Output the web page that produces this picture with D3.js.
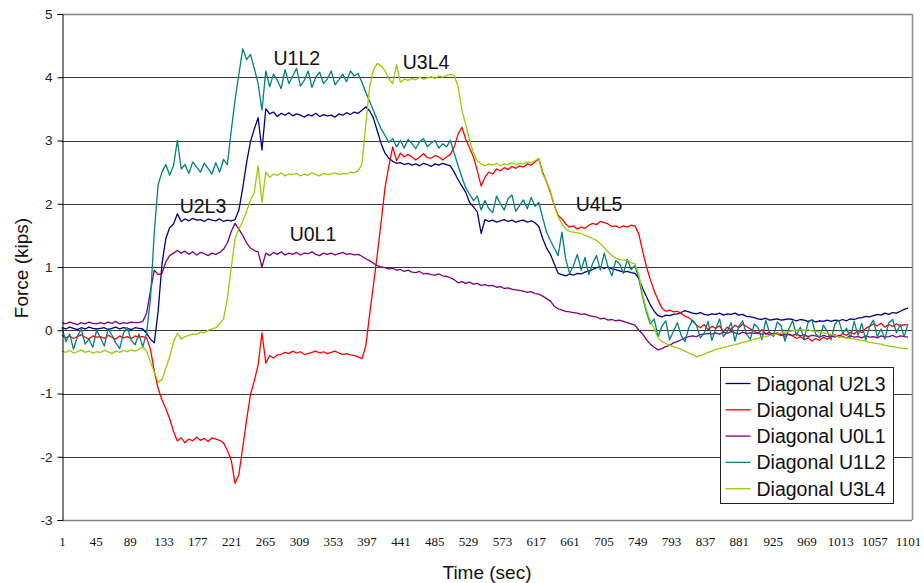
<!DOCTYPE html>
<html>
<head>
<meta charset="utf-8">
<script src="https://cdn.jsdelivr.net/npm/d3@7/dist/d3.min.js"></script>
<style>
  html, body { margin: 0; padding: 0; background: #fff; }
  svg { display: block; }
</style>
</head>
<body>
<svg id="chart" width="924" height="583"></svg>
<script>
// Member forces recorded every 5 s over the test (time in seconds, force in kips)
const timeSec = d3.range(1, 1102, 5);

const seriesNames = ["Diagonal U2L3", "Diagonal U4L5", "Diagonal U0L1", "Diagonal U1L2", "Diagonal U3L4"];
const seriesColors = ["#000080", "#FF0000", "#800080", "#008080", "#99CC00"];

const u2l3 = [
  0.04, 0.02, 0.05, 0.03, 0.01, 0.04, 0.02, 0.05, 0.03, 0.02,
  0.03, 0.04, 0.01, 0.03, 0.05, 0.02, 0.04, 0.03, 0.01, 0.04,
  0.03, 0.02, -0.05, -0.14, -0.2, 0.3, 1.05, 1.45, 1.62, 1.68,
  1.84, 1.72, 1.76, 1.73, 1.77, 1.74, 1.75, 1.72, 1.76, 1.74,
  1.73, 1.76, 1.72, 1.74, 1.73, 1.75, 1.9, 2.25, 2.65, 2.98,
  3.18, 3.36, 2.85, 3.5, 3.42, 3.45, 3.38, 3.43, 3.4, 3.44,
  3.39, 3.42, 3.4, 3.37, 3.41, 3.39, 3.43, 3.38, 3.41, 3.39,
  3.4, 3.37, 3.42, 3.4, 3.44, 3.41, 3.45, 3.43, 3.48, 3.53,
  3.47, 3.35, 3.15, 2.95, 2.8, 2.72, 2.67, 2.64, 2.65, 2.62,
  2.64, 2.61, 2.63, 2.6, 2.64, 2.62, 2.59, 2.63, 2.61, 2.64,
  2.62, 2.6, 2.5, 2.38, 2.28, 2.18, 2.02, 1.95, 1.87, 1.53,
  1.75, 1.72, 1.74, 1.71, 1.73, 1.75, 1.72, 1.74, 1.71, 1.73,
  1.74, 1.71, 1.73, 1.7, 1.64, 1.45, 1.3, 1.2, 1.05, 0.9,
  0.88, 0.86, 0.89, 0.87, 0.9, 0.89, 0.92, 0.94, 0.96, 0.99,
  1.0, 0.98, 1.0, 0.97, 0.96, 0.94, 0.92, 0.93, 0.91, 0.9,
  0.82, 0.66, 0.53, 0.4, 0.3, 0.23, 0.21, 0.24, 0.23, 0.25,
  0.26, 0.28, 0.31, 0.29, 0.27, 0.26, 0.28, 0.25, 0.24, 0.26,
  0.25, 0.27, 0.24, 0.26, 0.25, 0.27, 0.24, 0.25, 0.22, 0.21,
  0.2, 0.18, 0.17, 0.19, 0.16, 0.17, 0.18, 0.16, 0.17, 0.18,
  0.17, 0.15, 0.17, 0.16, 0.14, 0.16, 0.13, 0.15, 0.14, 0.16,
  0.14, 0.16, 0.15, 0.17, 0.15, 0.18, 0.17, 0.19, 0.2, 0.22,
  0.21, 0.23, 0.25, 0.24, 0.27, 0.25, 0.28, 0.27, 0.3, 0.33,
  0.35
];

const u4l5 = [
  -0.08, -0.12, -0.09, -0.13, -0.1, -0.07, -0.11, -0.14, -0.09, -0.11,
  -0.1, -0.13, -0.08, -0.11, -0.14, -0.09, -0.12, -0.1, -0.13, -0.09,
  -0.11, -0.1, -0.12, -0.3, -0.65, -0.92, -1.1, -1.24, -1.4, -1.6,
  -1.75, -1.7, -1.78, -1.72, -1.75, -1.69, -1.74, -1.71, -1.76, -1.7,
  -1.72, -1.74, -1.78, -1.9, -2.05, -2.42, -2.28, -1.85, -1.42, -1.02,
  -0.8, -0.55, -0.04, -0.52, -0.4, -0.44, -0.39, -0.38, -0.35, -0.37,
  -0.33, -0.36, -0.34, -0.38, -0.37, -0.35, -0.33, -0.36, -0.34, -0.37,
  -0.35, -0.33, -0.36, -0.38, -0.37, -0.39, -0.4, -0.42, -0.45, -0.25,
  0.25, 0.72, 1.2, 1.72, 2.25, 2.6, 2.9, 2.68, 2.8, 2.74,
  2.78, 2.74, 2.69, 2.74, 2.79, 2.73, 2.72, 2.76, 2.74, 2.69,
  2.74, 2.78, 2.9, 3.1, 3.21, 3.02, 2.88, 2.74, 2.52, 2.28,
  2.42, 2.5, 2.47, 2.55, 2.52, 2.57, 2.54, 2.59, 2.56, 2.6,
  2.58, 2.63, 2.61, 2.66, 2.71, 2.5, 2.35, 2.18, 1.98, 1.82,
  1.76, 1.68, 1.63, 1.65, 1.6, 1.63, 1.61, 1.66, 1.69, 1.67,
  1.72, 1.7, 1.68, 1.64, 1.65, 1.62, 1.65, 1.63, 1.66, 1.65,
  1.52, 1.25, 1.0, 0.8, 0.62, 0.48, 0.35, 0.3, 0.32, 0.29,
  0.3, 0.27, 0.22, 0.2, 0.14, 0.08, 0.04, 0.09, 0.01, 0.06,
  0.03, 0.07, -0.02, 0.05, 0.01, 0.08, 0.04, 0.1, 0.06, 0.02,
  -0.02, -0.05, 0.01, -0.06, -0.03, -0.08, -0.04, -0.07, -0.1, -0.06,
  -0.09, -0.13, -0.1, -0.15, -0.12, -0.17, -0.13, -0.16, -0.11, -0.14,
  -0.1, -0.07, -0.11, -0.05, -0.08, -0.03, -0.06, 0.0, -0.04, 0.03,
  0.06, 0.1, 0.07, 0.11, 0.05, 0.09, 0.06, 0.1, 0.07, 0.09,
  0.08
];

const u0l1 = [
  0.12, 0.1, 0.13, 0.11, 0.09, 0.12, 0.1, 0.13, 0.11, 0.1,
  0.12, 0.1, 0.13, 0.11, 0.14, 0.1, 0.12, 0.11, 0.13, 0.12,
  0.12, 0.14, 0.27, 0.62, 0.95, 0.88, 0.9, 1.08, 1.18, 1.22,
  1.26, 1.22, 1.25, 1.2, 1.24, 1.19, 1.23, 1.21, 1.18, 1.22,
  1.2, 1.23, 1.28, 1.38, 1.56, 1.69, 1.6, 1.5, 1.38, 1.3,
  1.26, 1.24, 1.0, 1.22, 1.18, 1.23, 1.2, 1.24, 1.19, 1.22,
  1.2, 1.23, 1.19, 1.22, 1.21, 1.24, 1.2, 1.18, 1.22, 1.2,
  1.22, 1.19, 1.21, 1.23, 1.2, 1.21, 1.19, 1.2, 1.17, 1.13,
  1.1, 1.06, 1.02, 1.0, 0.99, 0.97, 0.98, 0.95, 0.96, 0.93,
  0.95, 0.92, 0.91, 0.93, 0.89, 0.9, 0.88, 0.87, 0.89, 0.86,
  0.85, 0.83, 0.8, 0.75, 0.77, 0.74, 0.76, 0.73, 0.74, 0.71,
  0.72, 0.7, 0.71, 0.68, 0.69, 0.66, 0.67, 0.65, 0.64, 0.63,
  0.62, 0.6, 0.61, 0.58, 0.57, 0.54, 0.5, 0.46, 0.38, 0.34,
  0.32, 0.3, 0.29, 0.28, 0.27, 0.25, 0.26, 0.23, 0.22, 0.21,
  0.18, 0.19, 0.16, 0.17, 0.15, 0.16, 0.14, 0.12, 0.1, 0.08,
  0.0, -0.06, -0.15, -0.22, -0.27, -0.31, -0.29, -0.26, -0.24, -0.2,
  -0.18, -0.15, -0.12, -0.1, -0.09, -0.1, -0.07, -0.06, -0.05, -0.06,
  -0.04, -0.06, -0.03, -0.05, -0.02, -0.04, -0.06, -0.03, -0.05, -0.04,
  -0.05, -0.04, -0.06, -0.05, -0.07, -0.05, -0.06, -0.08, -0.06, -0.07,
  -0.08, -0.06, -0.09, -0.07, -0.1, -0.08, -0.09, -0.11, -0.08, -0.1,
  -0.09, -0.11, -0.08, -0.1, -0.12, -0.09, -0.11, -0.1, -0.12, -0.09,
  -0.11, -0.1, -0.12, -0.09, -0.11, -0.1, -0.08, -0.11, -0.09, -0.1,
  -0.11
];

const u1l2 = [
  0.05, -0.18, -0.06, -0.3, -0.1, 0.02, -0.22, -0.14, -0.27, 0.0,
  -0.12, -0.25, 0.03, -0.08, -0.2, -0.29, -0.04, 0.04, -0.16, -0.23,
  -0.06, -0.26, -0.05, 0.5, 1.55, 2.3, 2.5, 2.62, 2.45, 2.6,
  3.0, 2.55, 2.62, 2.48, 2.66, 2.58, 2.5, 2.64, 2.56, 2.47,
  2.65, 2.5, 2.7, 2.62, 3.15, 3.64, 4.05, 4.45, 4.28, 4.36,
  4.14, 3.9, 3.48, 4.1, 3.85, 4.05, 3.95, 3.82, 4.12, 3.9,
  4.02, 4.14, 3.86, 3.95, 4.1, 3.84, 4.0, 4.08, 3.9, 3.97,
  4.1, 3.88, 3.96, 4.05, 3.93, 4.1, 4.02, 4.06, 3.92, 3.76,
  3.62, 3.47, 3.32, 3.18, 3.08, 2.97, 3.03, 2.9, 3.0, 2.88,
  3.02, 2.95, 2.87, 2.98, 3.03, 2.9, 2.96, 3.0, 2.88, 2.95,
  2.9, 3.0, 2.8, 2.6, 2.42, 2.25, 2.15, 2.05, 2.12, 1.9,
  2.05, 1.92, 1.86, 2.12, 2.0, 1.9, 2.08, 2.14, 1.88, 1.97,
  2.06, 1.92, 2.1, 1.96, 2.02, 1.78, 1.55, 1.42, 1.3, 1.18,
  1.55, 1.12, 0.9, 1.02, 1.2, 0.95, 1.15, 0.88, 1.06, 1.18,
  0.95, 1.22, 1.0, 0.86, 1.1, 1.05, 0.9, 1.12, 0.96, 1.02,
  0.82, 0.52, 0.28, 0.1, 0.18, -0.1, 0.06, 0.15, -0.15, -0.02,
  0.12, -0.08, -0.18, 0.04, 0.16, 0.08, -0.12, -0.05, 0.14, -0.16,
  0.02, 0.18, -0.1, -0.02, 0.12, -0.17, 0.06, 0.15, -0.06, -0.14,
  0.1, 0.04, -0.15, 0.16, -0.04, -0.1, 0.13, 0.07, -0.17, 0.02,
  0.15, -0.08, 0.05, -0.14, 0.12, 0.17, -0.06, -0.12, 0.08, -0.02,
  -0.15, 0.1, 0.16, -0.05, 0.03, -0.12, 0.14, -0.08, 0.11, -0.16,
  0.06, 0.16, -0.1, 0.02, -0.14, 0.12, 0.17, -0.04, 0.09, -0.1,
  0.1
];

const u3l4 = [
  -0.33, -0.35, -0.32, -0.36, -0.34, -0.31, -0.35, -0.33, -0.36, -0.34,
  -0.35, -0.32, -0.34, -0.37, -0.33, -0.35, -0.32, -0.34, -0.31, -0.33,
  -0.3, -0.27, -0.33, -0.5, -0.66, -0.82, -0.78, -0.6, -0.42, -0.18,
  -0.05, -0.14, -0.1, -0.08, -0.06, -0.07, -0.03, -0.04, 0.0, 0.02,
  0.04, 0.1, 0.18, 0.5, 0.98, 1.45, 1.6, 1.72, 1.88, 2.05,
  2.18, 2.6, 2.02, 2.5, 2.42, 2.47, 2.45, 2.49, 2.44, 2.47,
  2.46, 2.48, 2.44, 2.47, 2.45, 2.49, 2.46, 2.44, 2.48, 2.46,
  2.47, 2.49, 2.46, 2.48, 2.47, 2.5, 2.49, 2.52, 2.62, 3.25,
  3.85, 4.12, 4.22, 4.18, 4.1, 3.98, 3.9, 4.2, 3.92, 3.97,
  3.95, 3.98, 3.96, 4.0, 3.97, 3.99, 4.01, 3.98, 4.02, 4.0,
  4.03, 4.04, 4.03, 3.85, 3.48, 3.25, 3.0, 2.8, 2.68, 2.63,
  2.6, 2.63, 2.61, 2.64, 2.6, 2.63, 2.62, 2.65, 2.62, 2.64,
  2.63, 2.66, 2.65, 2.68, 2.72, 2.47, 2.36, 2.2, 1.98, 1.8,
  1.68, 1.6, 1.56, 1.55, 1.54, 1.53, 1.5, 1.48, 1.45, 1.42,
  1.37, 1.31, 1.24, 1.18, 1.14, 1.12, 1.11, 1.1, 1.07, 1.05,
  0.88, 0.56, 0.32, 0.14, 0.03, -0.12, -0.18, -0.21, -0.24, -0.26,
  -0.28, -0.3, -0.33, -0.36, -0.38, -0.42, -0.4, -0.38, -0.35, -0.33,
  -0.3, -0.29, -0.27, -0.26, -0.24, -0.23, -0.21, -0.19, -0.18, -0.16,
  -0.14, -0.13, -0.11, -0.1, -0.08, -0.07, -0.06, -0.04, -0.03, -0.02,
  -0.01, 0.0, 0.01, 0.0, 0.01, -0.01, -0.02, -0.03, -0.04, -0.05,
  -0.07, -0.08, -0.1, -0.11, -0.12, -0.13, -0.14, -0.15, -0.16, -0.17,
  -0.19, -0.2, -0.21, -0.22, -0.24, -0.25, -0.26, -0.27, -0.28, -0.29,
  -0.29
];

const seriesValues = [u2l3, u4l5, u0l1, u1l2, u3l4];

// Peak labels placed beside the curves
const peakLabels = ["U1L2", "U3L4", "U2L3", "U0L1", "U4L5"];
const peakLabelTime = [276, 444, 154, 297, 669];
const peakLabelForce = [4.2, 4.13, 1.85, 1.41, 1.88];

const xTickValues = d3.range(1, 1102, 44);
const yTickValues = d3.range(-3, 6, 1);

// ---- layout ----
const svg = d3.select("#chart");
const plotLeft = 62, plotRight = 912, plotTop = 14, plotBottom = 520;

const x = d3.scaleLinear().domain([1, 1101]).range([plotLeft, 908]);
const y = d3.scaleLinear().domain([-3, 5]).range([plotBottom, plotTop]);

// horizontal gridlines
svg.append("g")
  .selectAll("line")
  .data(yTickValues)
  .join("line")
  .attr("x1", plotLeft).attr("x2", plotRight)
  .attr("y1", d => Math.round(y(d)) + 0.5).attr("y2", d => Math.round(y(d)) + 0.5)
  .attr("stroke", d => d === -3 || d === 5 ? "#808080" : "#3a3a3a")
  .attr("stroke-width", d => d === -3 || d === 5 ? 1.6 : 1);

// right edge of plot area
svg.append("line")
  .attr("x1", plotRight + 0.5).attr("x2", plotRight + 0.5)
  .attr("y1", plotTop).attr("y2", plotBottom)
  .attr("stroke", "#909090").attr("stroke-width", 1.6);

// series lines
const line = d3.line()
  .x((d, i) => x(timeSec[i]))
  .y(d => y(d));

svg.append("g")
  .selectAll("path")
  .data(seriesValues)
  .join("path")
  .attr("d", d => line(d))
  .attr("fill", "none")
  .attr("stroke", (d, i) => seriesColors[i])
  .attr("stroke-width", 1.3)
  .attr("stroke-linejoin", "round");

// y axis (plain hyphen for negatives)
const yAxis = d3.axisLeft(y).tickValues(yTickValues).tickSize(5).tickPadding(5).tickFormat(d => String(d));
const gy = svg.append("g").attr("transform", `translate(${plotLeft + 0.5},0)`).call(yAxis);
gy.select(".domain").attr("stroke", "#000");
gy.selectAll(".tick line").attr("stroke", "#000");
gy.selectAll(".tick text")
  .attr("font-family", "'Liberation Sans', Arial, sans-serif")
  .attr("font-size", 13.5)
  .attr("fill", "#222");

// x axis labels (no tick marks)
const xAxis = d3.axisBottom(x).tickValues(xTickValues).tickSize(0).tickPadding(17).tickFormat(d => String(d));
const gx = svg.append("g").attr("transform", `translate(0,${plotBottom})`).call(xAxis);
gx.select(".domain").remove();
gx.selectAll(".tick text")
  .attr("font-family", "'Liberation Serif', 'Times New Roman', serif")
  .attr("font-size", 13)
  .attr("fill", "#111");

// axis titles
svg.append("text")
  .attr("x", 487).attr("y", 579)
  .attr("text-anchor", "middle")
  .attr("font-family", "'Liberation Sans', Arial, sans-serif")
  .attr("font-size", 19)
  .attr("fill", "#111")
  .text("Time (sec)");

svg.append("text")
  .attr("transform", "translate(28,268) rotate(-90)")
  .attr("text-anchor", "middle")
  .attr("font-family", "'Liberation Sans', Arial, sans-serif")
  .attr("font-size", 19)
  .attr("fill", "#111")
  .text("Force (kips)");

// curve labels
svg.append("g")
  .selectAll("text")
  .data(peakLabels)
  .join("text")
  .attr("x", (d, i) => x(peakLabelTime[i]))
  .attr("y", (d, i) => y(peakLabelForce[i]))
  .attr("font-family", "'Liberation Sans', Arial, sans-serif")
  .attr("font-size", 19.5)
  .attr("fill", "#111")
  .text(d => d);

// legend
const legend = svg.append("g").attr("transform", "translate(720.5,367.5)");
legend.append("rect")
  .attr("width", 173).attr("height", 136)
  .attr("fill", "#fff").attr("stroke", "#222").attr("stroke-width", 1);
const rows = legend.selectAll("g.row")
  .data(seriesNames)
  .join("g")
  .attr("class", "row")
  .attr("transform", (d, i) => `translate(0,${16 + i * 26.3})`);
rows.append("line")
  .attr("x1", 5).attr("x2", 30)
  .attr("stroke", (d, i) => seriesColors[i])
  .attr("stroke-width", 1.3);
rows.append("text")
  .attr("x", 36).attr("y", 0)
  .attr("dy", "0.36em")
  .attr("font-family", "'Liberation Sans', Arial, sans-serif")
  .attr("font-size", 19.5)
  .attr("fill", "#111")
  .text(d => d);
</script>
</body>
</html>
